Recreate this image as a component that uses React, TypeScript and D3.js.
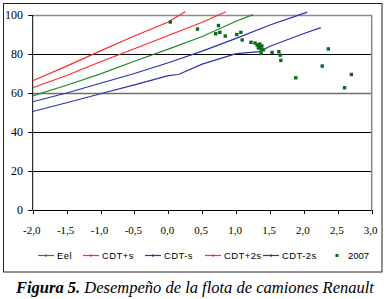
import React from "react";
import * as d3 from "d3";

const W = 386;
const H = 299;

const xTicks = [-2.0, -1.5, -1.0, -0.5, 0.0, 0.5, 1.0, 1.5, 2.0, 2.5, 3.0];
const yTicks = [0, 20, 40, 60, 80, 100];

const eelX = [-2, -1.5, -1, -0.5, 0, 0.5, 1.0, 1.25];
const eelY = [58.5, 64, 69.8, 76.3, 82.5, 89, 96.8, 100.2];

const cdtPlusSX = [-2, -1.5, -1, -0.5, 0, 0.5, 0.85];
const cdtPlusSY = [62.7, 69, 76, 82.7, 89.5, 96.3, 101.7];

const cdtPlus2sX = [-2, -1.5, -1, -0.5, 0, 0.25];
const cdtPlus2sY = [66.3, 73.8, 81.6, 89.2, 96.4, 101.7];

const cdtMinusSX = [-2, -1.5, -1, -0.5, 0, 0.5, 1.0, 1.5, 2.05];
const cdtMinusSY = [55.5, 60, 65, 70, 75.5, 81.5, 88, 94.9, 101.5];

const cdtMinus2sX = [-2, -1.5, -1, -0.5, 0, 0.15, 0.5, 1.0, 1.35, 1.5, 2.0, 2.25];
const cdtMinus2sY = [50.5, 55, 59.6, 64.2, 68.9, 69.5, 74.8, 80.2, 81.2, 84, 90.5, 93.5];

const pts2007X = [0.03, 0.43, 0.74, 0.76, 0.7, 0.84, 1.01, 1.07, 1.09, 1.22, 1.28, 1.31, 1.34, 1.37, 1.38, 1.33, 1.4, 1.35, 1.37, 1.53, 1.63, 1.65, 1.66, 2.36, 2.27, 1.88, 2.7, 2.6];
const pts2007Y = [96.4, 92.8, 94.6, 91.1, 90.4, 89.2, 90.0, 91.1, 87.2, 86.0, 85.6, 84.6, 83.6, 82.6, 84.1, 83.1, 82.1, 85.1, 80.3, 80.8, 81.2, 79.4, 76.7, 82.6, 73.8, 67.8, 69.5, 62.7];

const GREEN = "#1e8a2a";
const RED = "#ff2a2a";
const BLUE = "#2a33a6";
const DOT = "#0b6a1c";

const seriesList = [
  { name: "Eel", xs: eelX, ys: eelY, color: GREEN },
  { name: "CDT+s", xs: cdtPlusSX, ys: cdtPlusSY, color: RED },
  { name: "CDT-s", xs: cdtMinusSX, ys: cdtMinusSY, color: BLUE },
  { name: "CDT+2s", xs: cdtPlus2sX, ys: cdtPlus2sY, color: RED },
  { name: "CDT-2s", xs: cdtMinus2sX, ys: cdtMinus2sY, color: BLUE },
];

const legendItemsX = [38, 83, 145, 205, 263];

export default function App() {
  const x = d3.scaleLinear().domain([-2, 3]).range([32.7, 371.7]);
  const y = d3.scaleLinear().domain([0, 100]).range([210, 15]);
  const line = d3
    .line<[number, number]>()
    .x((d) => x(d[0]))
    .y((d) => y(d[1]));
  const fmt = (v: number) => v.toFixed(1).replace(".", ",");
  const serif = "'Liberation Serif', 'Times New Roman', serif";
  const sans = "'Liberation Sans', Arial, sans-serif";

  return (
    <div style={{ position: "absolute", left: 0, top: 0 }}>
      <svg width={W} height={H} style={{ display: "block", background: "#fff" }}>
        <rect x={3.5} y={3.5} width={378.5} height={268.5} fill="none" stroke="#222" strokeWidth={1} />
        {yTicks.filter((t) => t > 0 && t < 100).map((t) => (
          <line key={t} x1={x(-2)} x2={x(3)} y1={Math.round(y(t)) + 0.5} y2={Math.round(y(t)) + 0.5}
            stroke={t === 60 ? "#707070" : "#000"} strokeWidth={t === 60 ? 1.5 : 1} />
        ))}
        <line x1={x(-2)} x2={x(3)} y1={y(100) + 0.5} y2={y(100) + 0.5} stroke="#8a8a8a" strokeWidth={1.5} />
        <line x1={x(3)} x2={x(3)} y1={y(100)} y2={y(0)} stroke="#8a8a8a" strokeWidth={1.5} />
        <line x1={x(-2)} x2={x(-2)} y1={y(100)} y2={y(0)} stroke="#000" />
        <line x1={x(-2)} x2={x(3)} y1={y(0) + 0.5} y2={y(0) + 0.5} stroke="#000" />
        {yTicks.map((t) => (
          <g key={t}>
            <line x1={x(-2) - 4.5} x2={x(-2)} y1={Math.round(y(t)) + 0.5} y2={Math.round(y(t)) + 0.5} stroke="#000" />
            <text x={23} y={y(t) + 4} textAnchor="end" fontFamily={serif} fontSize={12} fill="#000">{t}</text>
          </g>
        ))}
        {xTicks.map((t) => (
          <g key={t}>
            <line x1={Math.round(x(t)) + 0.5} x2={Math.round(x(t)) + 0.5} y1={y(0)} y2={y(0) + 4} stroke="#000" />
            <text x={x(t) - 1} y={234} textAnchor="middle" fontFamily={serif} fontSize={11} fill="#000">{fmt(t)}</text>
          </g>
        ))}
        {seriesList.map((s) => (
          <path key={s.name} d={line(s.xs.map((v, i) => [v, s.ys[i]] as [number, number])) || ""}
            fill="none" stroke={s.color} strokeWidth={1.2} />
        ))}
        {pts2007X.map((v, i) => (
          <rect key={i} x={x(v) - 1.7} y={y(pts2007Y[i]) - 1.7} width={3.4} height={3.4} fill={DOT} />
        ))}
        {seriesList.map((s, i) => (
          <g key={s.name}>
            <line x1={legendItemsX[i]} x2={legendItemsX[i] + 16} y1={255.5} y2={255.5} stroke={s.color} strokeWidth={1.2} />
            <rect x={legendItemsX[i] + 7} y={254.5} width={2} height={2} fill={s.color} />
            <text x={legendItemsX[i] + 19} y={259} fontFamily={sans} fontSize={9.5} letterSpacing={0.4} fill="#000">{s.name}</text>
          </g>
        ))}
        <rect x={335.5} y={254} width={3} height={3} fill={DOT} />
        <text x={348} y={259} fontFamily={sans} fontSize={9.5} fill="#000">2007</text>
        <text x={195} y={293} textAnchor="middle" fontFamily={serif} fontSize={16.5} fontStyle="italic" fill="#000">
          <tspan fontWeight="bold">Figura 5.</tspan>
          <tspan> Desempeño de la flota de camiones Renault</tspan>
        </text>
      </svg>
    </div>
  );
}
